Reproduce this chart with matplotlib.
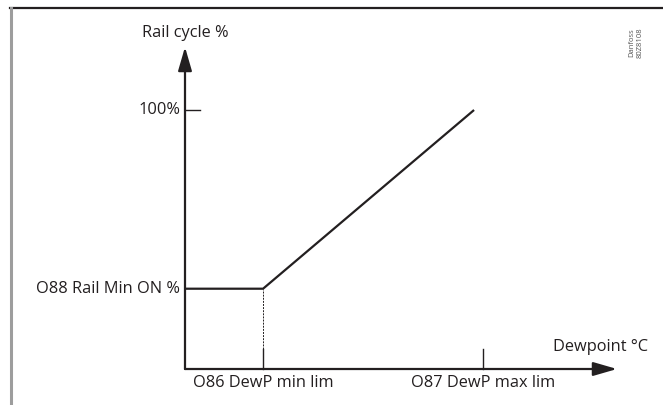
import matplotlib
matplotlib.use("Agg")
import matplotlib.pyplot as plt
from matplotlib.lines import Line2D

# data (dewpoint in relative units: 0 = axis origin, 100 = max lim)
dewpoint = [0, 26.2, 97]
rail_cycle = [31, 31, 100]
min_lim = 26.2
max_lim = 100
y_top_tick = 100
rail_min_on = 31

ink = "#231f20"
plt.rcParams["font.family"] = ["Open Sans", "DejaVu Sans"]

fig = plt.figure(figsize=(6.63, 4.05), dpi=100)
ax = fig.add_axes([0, 0, 1, 1])
ax.axis("off")

# pixel mapping: origin at (185, 369) from top-left
px_x = 2.98   # px per dewpoint unit
px_y = 2.59   # px per %
ax.set_xlim(-185 / px_x, (663 - 185) / px_x)
ax.set_ylim(-(405 - 369) / px_y, 369 / px_y)

# frame (top dark, left grey)
fig.add_artist(Line2D([10 / 663, 1], [1 - 8 / 405] * 2, color=ink, lw=1.6))
fig.add_artist(Line2D([10.5 / 663] * 2, [0, 1 - 8 / 405], color="#9d9d9d", lw=2.2))

# axes with arrows
arrow = dict(arrowstyle="-|>,head_length=1.45,head_width=0.42", lw=1.6,
             color=ink, mutation_scale=10, shrinkA=0, shrinkB=0)
ax.annotate("", xy=(0, (369 - 47) / px_y), xytext=(0, 0), arrowprops=arrow)
ax.annotate("", xy=((617 - 185) / px_x, 0), xytext=(0, 0), arrowprops=arrow)

# ticks
ax.plot([0, 15 / px_x], [y_top_tick, y_top_tick], color=ink, lw=1.0)
ax.plot([min_lim, min_lim], [0, 20 / px_y], color=ink, lw=1.0)
ax.plot([max_lim, max_lim], [0, 20 / px_y], color=ink, lw=1.0)
ax.plot([min_lim, min_lim], [20 / px_y, rail_min_on], color=ink, lw=0.7,
        ls=(0, (2.0, 1.2)))

# curve
ax.plot(dewpoint, rail_cycle, color=ink, lw=1.6, solid_capstyle="butt")

fs = 11.8
ax.text(0, (369 - 33) / px_y, "Rail cycle %", ha="center", va="center",
        fontsize=fs, color=ink)
ax.text(-5 / px_x, y_top_tick, "100%", ha="right", va="center",
        fontsize=fs, color=ink)
ax.text(-5 / px_x, rail_min_on, "O88 Rail Min ON %", ha="right", va="center",
        fontsize=fs, color=ink)
ax.text(min_lim, -14 / px_y, "O86 DewP min lim", ha="center", va="center",
        fontsize=fs, color=ink)
ax.text(max_lim, -14 / px_y, "O87 DewP max lim", ha="center", va="center",
        fontsize=fs, color=ink)
ax.text((648 - 185) / px_x, 22 / px_y, "Dewpoint °C", ha="right", va="center",
        fontsize=fs, color=ink)

fig.text(636 / 663, 1 - 43 / 405, "Danfoss\n80Z8108", rotation=90,
         ha="center", va="center", fontsize=5.5, color="#555555",
         linespacing=1.1)

fig.savefig("out.png", dpi=100)
